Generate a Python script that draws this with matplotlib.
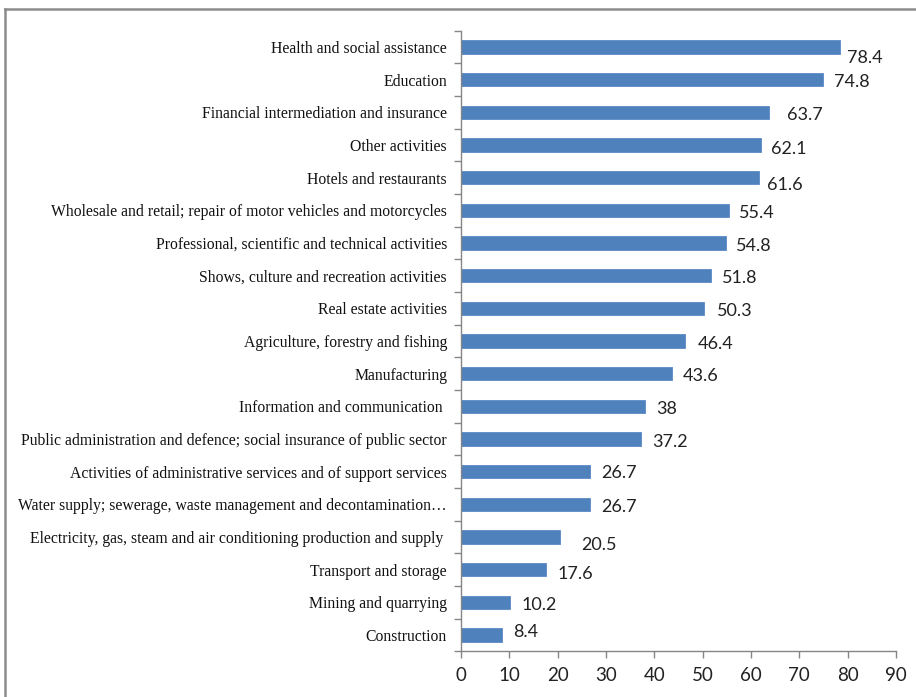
import matplotlib
matplotlib.use("Agg")
import matplotlib.pyplot as plt
from matplotlib.lines import Line2D
import numpy as np

categories = [
    "Health and social assistance",
    "Education",
    "Financial intermediation and insurance",
    "Other activities",
    "Hotels and restaurants",
    "Wholesale and retail; repair of motor vehicles and motorcycles",
    "Professional, scientific and technical activities",
    "Shows, culture and recreation activities",
    "Real estate activities",
    "Agriculture, forestry and fishing",
    "Manufacturing",
    "Information and communication ",
    "Public administration and defence; social insurance of public sector",
    "Activities of administrative services and of support services",
    "Water supply; sewerage, waste management and decontamination\u2026",
    "Electricity, gas, steam and air conditioning production and supply ",
    "Transport and storage",
    "Mining and quarrying",
    "Construction",
]
values = [78.4, 74.8, 63.7, 62.1, 61.6, 55.4, 54.8, 51.8, 50.3, 46.4,
          43.6, 38, 37.2, 26.7, 26.7, 20.5, 17.6, 10.2, 8.4]
value_labels = ["78.4", "74.8", "63.7", "62.1", "61.6", "55.4", "54.8", "51.8",
                "50.3", "46.4", "43.6", "38", "37.2", "26.7", "26.7", "20.5",
                "17.6", "10.2", "8.4"]
x_ticks = [0, 10, 20, 30, 40, 50, 60, 70, 80, 90]

# label offsets in points (dx, dy), mimicking the original label placement
label_offsets = [(5, -6), (8, 0), (13, 0), (7, -1), (6, -3), (7, 0), (7, 0), (8, 0),
                 (9, 0), (9, 0), (8, 0), (8, 0), (8, 0), (8, 1), (8, 0), (15, -4),
                 (8, -1), (8, 0), (8, 4)]

bar_color = "#4F81BD"
axis_gray = "#868686"

fig = plt.figure(figsize=(9.16, 6.97), dpi=100)
ax = fig.add_axes([461 / 916, 1 - 651.3 / 697, (896 - 461) / 916, (651.3 - 30.7) / 697])

n = len(categories)
y = np.arange(n)[::-1]
ax.barh(y, values, height=0.4, color=bar_color, edgecolor="#5B8AC6", linewidth=0.6)

ax.set_xlim(0, 90)
ax.set_ylim(-0.5, n - 0.5)
ax.set_xticks(x_ticks)
ax.set_xticklabels([str(t) for t in x_ticks], fontfamily="Lato", fontsize=13.5, color="#222222")
ax.set_yticks(y)
ax.set_yticklabels(categories, fontfamily="Liberation Serif", fontsize=11.3, color="#111111")
ax.set_yticks(np.arange(n + 1) - 0.5, minor=True)
ax.tick_params(axis="y", which="major", length=0, pad=10)
ax.tick_params(axis="y", which="minor", length=5, color=axis_gray, width=1, direction="out")
ax.tick_params(axis="x", which="major", length=5, color=axis_gray, width=1, pad=6, direction="out")

for s in ["top", "right"]:
    ax.spines[s].set_visible(False)
for s in ["left", "bottom"]:
    ax.spines[s].set_color(axis_gray)
    ax.spines[s].set_linewidth(1)

for yi, v, lab, (dx, dy) in zip(y, values, value_labels, label_offsets):
    ax.annotate(lab, xy=(v, yi), xytext=(dx, dy - 2), textcoords="offset points",
                ha="left", va="center", fontfamily="Lato", fontsize=13, color="#222222")

# outer frame (partially visible)
fig.add_artist(Line2D([5 / 916, 1.0], [1 - 9 / 697, 1 - 9 / 697], color="#8C8C8C", linewidth=1.8,
                      transform=fig.transFigure))
fig.add_artist(Line2D([5 / 916, 5 / 916], [0.0, 1 - 9 / 697], color="#8C8C8C", linewidth=1.8,
                      transform=fig.transFigure))

fig.savefig("out.png", dpi=100)
